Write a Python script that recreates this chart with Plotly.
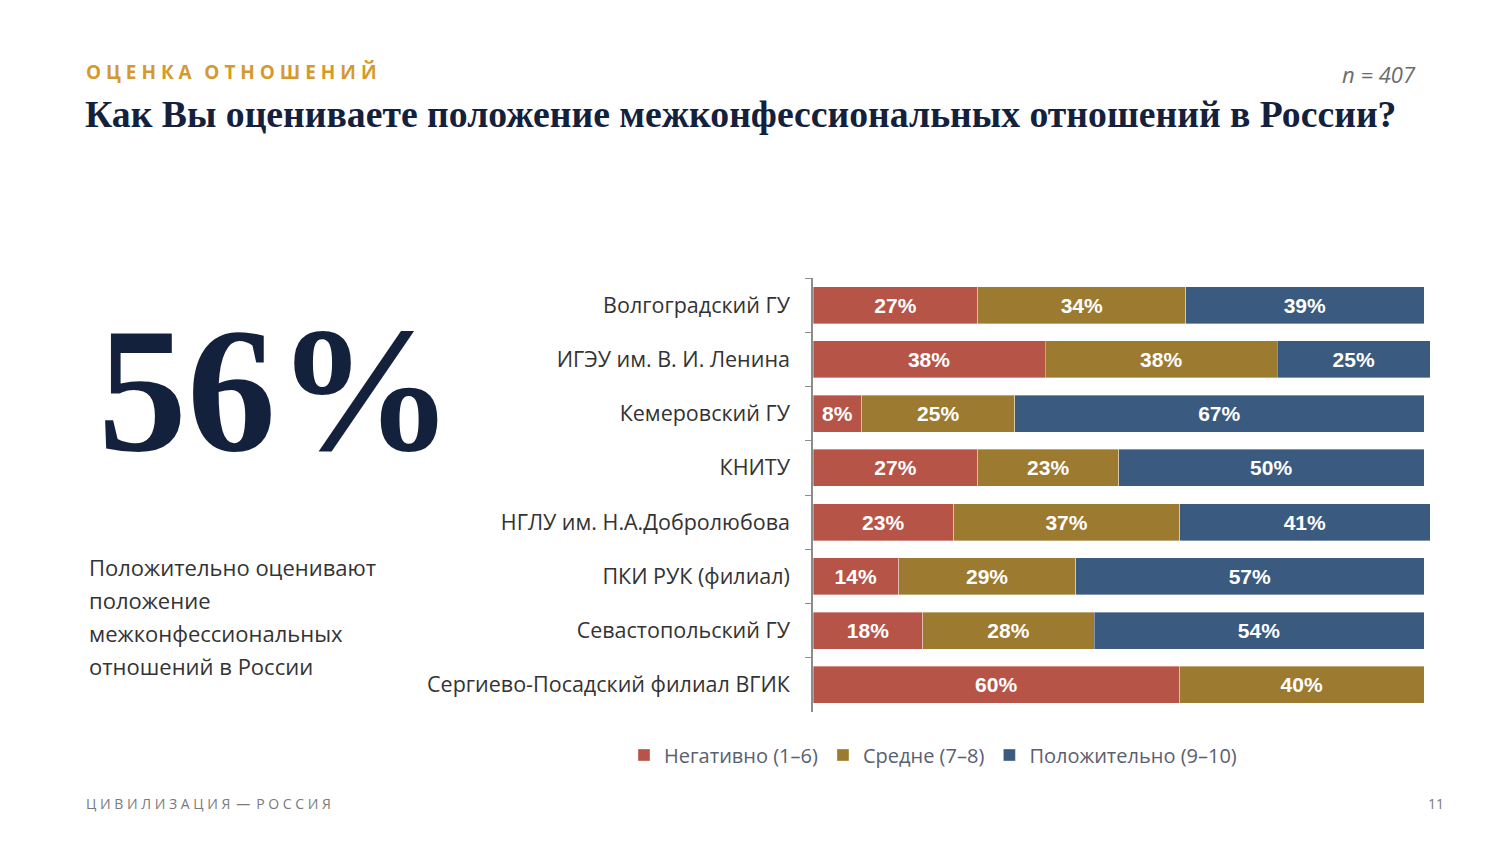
import plotly.graph_objects as go

# Data
universities = [
    "Волгоградский ГУ",
    "ИГЭУ им. В. И. Ленина",
    "Кемеровский ГУ",
    "КНИТУ",
    "НГЛУ им. Н.А.Добролюбова",
    "ПКИ РУК (филиал)",
    "Севастопольский ГУ",
    "Сергиево-Посадский филиал ВГИК",
]
negative = [27, 38, 8, 27, 23, 14, 18, 60]
medium = [34, 38, 25, 23, 37, 29, 28, 40]
positive = [39, 25, 67, 50, 41, 57, 54, 0]

series_names = ["Негативно (1–6)", "Средне (7–8)", "Положительно (9–10)"]
series_colors = ["#B75448", "#9C7A2F", "#3B5A80"]

headline = "56%"
note_lines = ["Положительно оценивают", "положение", "межконфессиональных", "отношений в России"]

NAVY = "#14213D"
W, H = 1500, 844
OFF = 8  # page body margin


def px(x):
    return (x - OFF) / W


def py(y):
    return 1 - (y - OFF) / H


def spaced(s, gap=" ", word_gap="\u2003"):
    return word_gap.join(gap.join(w) for w in s.split(" "))


fig = go.Figure()
for name, vals, col in zip(series_names, [negative, medium, positive], series_colors):
    fig.add_trace(go.Bar(
        y=universities, x=vals, name=name, orientation="h",
        marker=dict(color=col, line=dict(color="rgba(255,255,255,0.6)", width=0.6)),
        text=[f"{v}%" if v else "" for v in vals],
        textposition="inside", insidetextanchor="middle", textangle=0,
        constraintext="none",
        textfont=dict(family="Liberation Sans, Arial", size=21, color="white", weight="bold"),
        width=0.68,
    ))

# 0..100 spans 813..1424 px; leave a little room for rows summing to 101
x_right = 1430
fig.update_layout(
    barmode="stack",
    width=W, height=H,
    margin=dict(l=0, r=0, t=0, b=0),
    paper_bgcolor="white", plot_bgcolor="white",
    font=dict(family="Open Sans", color="#333333"),
    xaxis=dict(domain=[px(813), px(x_right)], range=[0, 100 * (x_right - 813) / (1424 - 813)],
               visible=False, fixedrange=True),
    yaxis=dict(
        domain=[py(712), py(278)],
        autorange="reversed",
        showline=True, linecolor="#8C8C8C", linewidth=1.5,
        ticks="outside", tickson="boundaries", ticklen=6, tickcolor="#8C8C8C",
        ticklabelstandoff=17,
        tickfont=dict(family="Open Sans", size=21.5, color="#333333"),
        showgrid=False,
    ),
    legend=dict(
        orientation="h", x=px(933), xanchor="center", y=py(755), yanchor="middle",
        font=dict(family="Open Sans", size=20, color="#5A6070"),
        traceorder="normal", itemwidth=30,
    ),
    bargap=0.3,
)

# header texts
fig.add_annotation(x=px(84), y=py(72), xref="paper", yref="paper", xanchor="left", yanchor="middle",
                   text=spaced("ОЦЕНКА ОТНОШЕНИЙ", " ", "\u2002\u2009"),
                   showarrow=False, font=dict(family="Open Sans", size=19, color="#D49A2E", weight="bold"))
fig.add_annotation(x=px(83), y=py(114), xref="paper", yref="paper", xanchor="left", yanchor="middle",
                   text="Как Вы оцениваете положение межконфессиональных отношений в России?",
                   showarrow=False, font=dict(family="Liberation Serif", size=37.7, color=NAVY, weight="bold"))
fig.add_annotation(x=px(1418), y=py(74), xref="paper", yref="paper", xanchor="right", yanchor="middle",
                   text="<i>n = 407</i>", showarrow=False,
                   font=dict(family="Open Sans", size=22, color="#6B6B6B"))

# big number and note
fig.add_annotation(x=px(276), y=py(390), xref="paper", yref="paper", xanchor="center", yanchor="middle",
                   text=headline, showarrow=False,
                   font=dict(family="Liberation Serif", size=178, color=NAVY, weight="bold"))
for i, line in enumerate(note_lines):
    fig.add_annotation(x=px(87), y=py(567 + 33 * i), xref="paper", yref="paper",
                       xanchor="left", yanchor="middle", text=line, showarrow=False,
                       font=dict(family="Open Sans", size=22, color="#333333"))

# footer
fig.add_annotation(x=px(84), y=py(803), xref="paper", yref="paper", xanchor="left", yanchor="middle",
                   text=spaced("ЦИВИЛИЗАЦИЯ — РОССИЯ", " ", " \u2009"),
                   showarrow=False, font=dict(family="Open Sans", size=14, color="#7A7A7A"))
fig.add_annotation(x=px(1446), y=py(803), xref="paper", yref="paper", xanchor="right", yanchor="middle",
                   text="11", showarrow=False, font=dict(family="Open Sans", size=14, color="#7A7A7A"))

fig.write_html("out.html")
